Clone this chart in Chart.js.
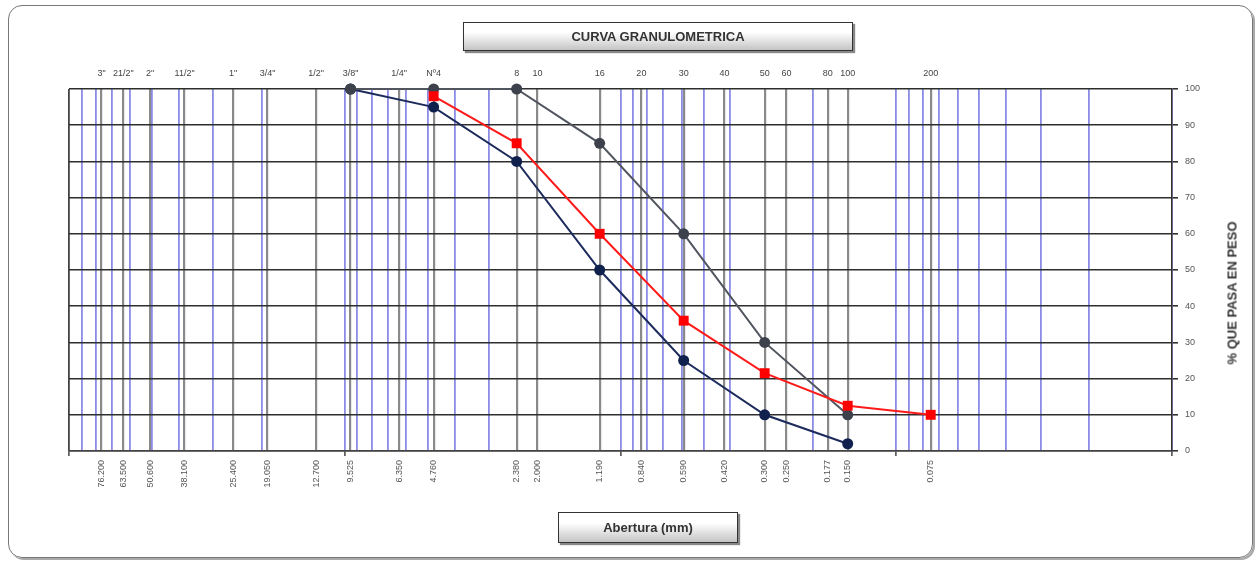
<!DOCTYPE html>
<html><head><meta charset="utf-8">
<script src="https://cdn.jsdelivr.net/npm/chart.js@4"></script>
<style>
html,body{margin:0;padding:0;background:#fff;}
#wrap{position:relative;width:1260px;height:563px;overflow:hidden;}
#frame{position:absolute;left:8px;top:5px;width:1243px;height:551px;border:1px solid #777;border-radius:14px;box-shadow:2px 2px 0 #aaa;}
canvas{position:absolute;left:0;top:0;}
.box{position:absolute;border:1px solid #333;background:linear-gradient(#fff 35%,#c4c4c4);box-shadow:2px 2px 1px #888;font:bold 13px "Liberation Sans",Arial,sans-serif;color:#333;text-align:center;box-sizing:border-box;}
#ytitle{position:absolute;left:1232px;top:293px;transform:translate(-50%,-50%) rotate(-90deg);white-space:nowrap;font:bold 13px "Liberation Sans",Arial,sans-serif;color:#333;}
</style>
</head><body>
<div id="wrap">
<div id="frame"></div>
<canvas id="c" width="1260" height="563"></canvas>
<div class="box" style="left:463px;top:22px;width:390px;height:29px;line-height:27px;">CURVA GRANULOMETRICA</div>
<div class="box" style="left:558px;top:512px;width:180px;height:31px;line-height:29px;">Abertura (mm)</div>
<div id="ytitle">% QUE PASA EN PESO</div>
</div>
<script>
// ---- data ----
const sieveNames = ['3"','21/2"','2"','11/2"','1"','3/4"','1/2"','3/8"','1/4"','Nº4','8','10','16','20','30','40','50','60','80','100','200'];
const sieveOpenings = [76.2,63.5,50.8,38.1,25.4,19.05,12.7,9.525,6.35,4.76,2.38,2.0,1.19,0.84,0.59,0.42,0.3,0.25,0.177,0.15,0.075];
const sieveLabels = ['76.200','63.500','50.600','38.100','25.400','19.050','12.700','9.525','6.350','4.760','2.380','2.000','1.190','0.840','0.590','0.420','0.300','0.250','0.177','0.150','0.075'];
const yTickValues = [0,10,20,30,40,50,60,70,80,90,100];

const muestraX = [4.76,2.38,1.19,0.59,0.3,0.15,0.075];
const muestraY = [98,85,60,36,21.5,12.5,10];
const limSupX = [9.525,4.76,2.38,1.19,0.59,0.3,0.15];
const limSupY = [100,100,100,85,60,30,10];
const limInfX = [9.525,4.76,2.38,1.19,0.59,0.3,0.15];
const limInfY = [100,95,80,50,25,10,2];

// log minor grid values (1..9 x 10^n)
const minorGrid = [];
[-2,-1,0,1].forEach(e => { for (let m=1;m<=9;m++) minorGrid.push(+(m*Math.pow(10,e)).toPrecision(6)); });
minorGrid.push(100);

const near = (a,b) => Math.abs(a-b) < 1e-9*Math.max(1,Math.abs(b));
const sieveIndex = v => sieveOpenings.findIndex(s => near(s,v));
const isDecade = v => [0.01,0.1,1,10,100].some(d => near(d,v));
const gridValues = sieveOpenings.concat(minorGrid.filter(v => sieveIndex(v) < 0)).sort((a,b)=>b-a);

const pts = (xs,ys) => xs.map((x,i)=>({x:x,y:ys[i]}));
const font9 = {family:'"Liberation Sans", Arial, sans-serif', size:9};

new Chart(document.getElementById('c'), {
  type:'line',
  data:{datasets:[
    {label:'Muestra', data:pts(muestraX,muestraY), borderColor:'#ff1a1a', backgroundColor:'#ff0000', pointStyle:'rect', pointRadius:7, pointBorderWidth:0, borderWidth:2, clip:false, tension:0},
    {label:'Límite superior', data:pts(limSupX,limSupY), borderColor:'#50555e', backgroundColor:'#3c414c', pointStyle:'circle', pointRadius:5.5, pointBorderWidth:0, borderWidth:2, clip:false, tension:0},
    {label:'Límite inferior', data:pts(limInfX,limInfY), borderColor:'#1c2b5c', backgroundColor:'#10214e', pointStyle:'circle', pointRadius:5.5, pointBorderWidth:0, borderWidth:2, clip:false, tension:0}
  ]},
  options:{
    responsive:false, animation:false, devicePixelRatio:1,
    layout:{padding:{left:69,right:48,top:60,bottom:40}},
    plugins:{legend:{display:false}, title:{display:false}, tooltip:{enabled:false}},
    scales:{
      x:{
        type:'logarithmic', position:'bottom', reverse:true, min:0.01, max:100,
        afterBuildTicks:(s)=>{ s.ticks = gridValues.map(x=>({value:x})); },
        afterFit:(s)=>{ s.height = 72; },
        grid:{
          drawOnChartArea:true, drawTicks:true, tickLength:5,
          color:(ctx)=>{ const v = ctx.tick ? ctx.tick.value : 0; if (near(v,100)) return '#444'; if (sieveIndex(v)>=0) return '#8a8a8a'; return '#8c8ce6'; },
          lineWidth:(ctx)=>{ const v = ctx.tick ? ctx.tick.value : 0; return sieveIndex(v)>=0 ? 2.2 : 1.8; },
          tickColor:(ctx)=>{ const v = ctx.tick ? ctx.tick.value : 0; return isDecade(v) ? '#444' : 'rgba(0,0,0,0)'; },
          tickWidth:1.5
        },
        border:{display:true, color:'#444', width:1.5},
        ticks:{
          autoSkip:false, minRotation:90, maxRotation:90, padding:4, color:'#555', font:font9,
          callback:(val)=>{ const i = sieveIndex(val); return i>=0 ? sieveLabels[i] : ''; }
        }
      },
      x2:{
        type:'logarithmic', position:'top', reverse:true, min:0.01, max:100,
        afterBuildTicks:(s)=>{ s.ticks = sieveOpenings.map(x=>({value:x})); },
        afterFit:(s)=>{ s.height = 29; },
        grid:{display:false, drawTicks:false},
        border:{display:false},
        ticks:{
          autoSkip:false, minRotation:0, maxRotation:0, padding:10, color:'#444', font:font9,
          callback:(val)=>{ const i = sieveIndex(val); return i>=0 ? sieveNames[i] : ''; }
        }
      },
      y:{
        type:'linear', position:'right', min:0, max:100,
        afterBuildTicks:(s)=>{ s.ticks = yTickValues.map(v=>({value:v})); },
        afterFit:(s)=>{ s.width = 40; },
        grid:{color:'#2e2e2e', lineWidth:1.6, drawTicks:true, tickLength:6, tickColor:'#333'},
        border:{display:true, color:'#333', width:1.5},
        ticks:{padding:7, color:'#555', font:font9}
      }
    }
  }
});
</script>
</body></html>
